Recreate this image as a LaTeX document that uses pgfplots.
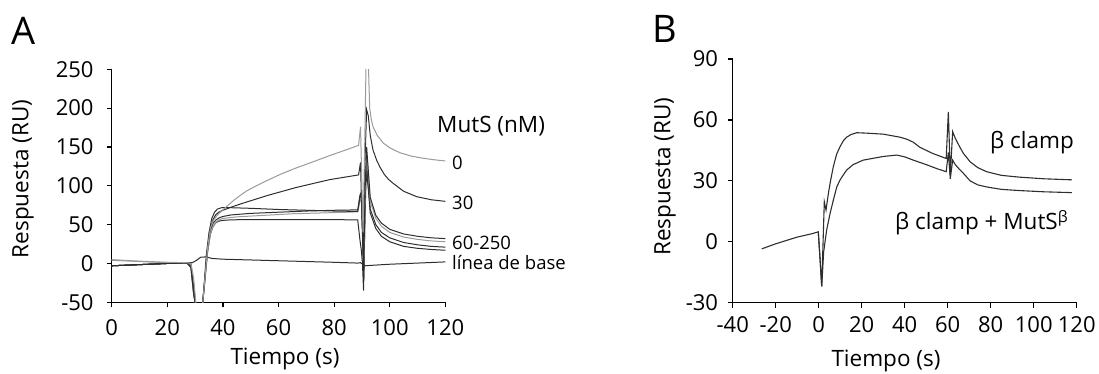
\documentclass[border=0pt]{standalone}
\usepackage{fontspec}
\setmainfont{Open Sans}
\usepackage{pgfplots}
\pgfplotsset{compat=1.18}
\definecolor{lg}{HTML}{9A9A9A}
\definecolor{dk}{HTML}{2E2E2E}
\newcommand{\fs}[1]{\fontsize{#1}{#1}\selectfont}
\pgfplotsset{myax/.style={scale only axis, anchor=south west, axis lines=left,
  axis line style={-, line width=1.2pt, black}, tick align=outside,
  major tick length=5pt, tick style={line width=1.2pt, black}, enlargelimits=false,
  tick label style={font=\fs{22}, inner sep=0pt, black}, clip=true}}
\begin{document}
\begin{tikzpicture}
\path[use as bounding box] (0pt,0pt) rectangle (1099pt,374pt);
% ---------------- Panel A ----------------
\begin{axis}[myax, at={(111.7pt,71.7pt)}, width=333.6pt, height=233pt,
  xmin=0, xmax=120, ymin=-50, ymax=250,
  xtick={0,20,40,60,80,100,120}, xticklabels={0,20,40,60,80,100,120},
  ytick={-50,0,50,100,150,200,250}, yticklabels={-50,0,50,100,150,200,250},
  yticklabel style={xshift=-13pt}, xticklabel style={yshift=-12pt}]
% baseline
\addplot[dk, line width=1pt] table {
0 -3
10 -1.5
20 0
27 0.8
29 1
30.5 4
32 8
34 8.5
36 6.5
40 5.5
60 3.5
80 1.5
88.5 0.5
89.5 1
90.3 -1
91 -3
93 -2.5
100 -1
110 0.5
120 2
};
% P4 low plateau
\addplot[dk, line width=1pt] table {
0 -3
20 0
27 0.8
28.5 -5
29.5 -40
30.5 -60
32.5 -60
33.5 -20
34.5 15
35.5 38
36.5 48
37.5 52.5
38.5 54.5
40 55.5
43 56.2
50 56.5
60 56.5
70 56.5
80 56.5
88.5 56
89.3 30
89.8 17
90.2 0
90.6 -35
91.1 60
91.6 120
92.2 100
93 65
95 45
97 35
100 28
105 22
110 19.5
115 18
120 17
};
% P3
\addplot[dk, line width=1pt] table {
0 -3
20 0
27 0.8
28.5 -3
29.5 -35
30.5 -60
32.5 -60
33.5 -22
34.5 18
35.5 43
36.5 52
37.5 56
38.5 58.5
40 60.5
43 62.5
50 64.5
60 66
70 67.5
80 68.5
88.5 69
89.3 88
89.8 92
90.3 35
90.7 -20
91.2 90
91.7 130
92.3 100
93 70
95 50
97 40
100 33
105 27
110 24
115 22
120 21
};
% P2 gray
\addplot[lg, line width=1pt] table {
0 4
20 1
27 1
28.5 -5
29.5 -40
30.5 -60
32.5 -60
33.5 -25
34.5 15
35.5 38
36.5 48
37.5 53
38.5 56
40 58
45 60
55 62
65 64
75 65
85 66
88.5 66.5
89.3 80
89.8 85
90.3 30
90.7 0
91.3 110
91.8 140
92.4 110
93 80
95 58
97 48
100 40
105 34
110 31
115 29
120 28
};
% P1 early peak
\addplot[dk, line width=1pt] table {
0 -3
20 0
27 0.8
28.5 -5
29.5 -40
30.5 -60
32.5 -60
33.2 -30
34 10
35 40
36 58
37 66
38 70
39.5 71.8
41 72
50 71
60 69.5
70 68.5
80 67.5
88.5 67
89.3 85
89.8 90
90.3 40
90.6 -10
91.2 100
91.7 150
92.3 120
93 85
95 62
97 52
100 44
105 38
110 35
115 33
120 32
};
% 30 nM
\addplot[dk, line width=1pt] table {
0 -3
10 -1.5
20 0
27 0.8
28.5 0
29.5 -30
30.5 -60
32.5 -60
33.5 -20
34.5 20
35.5 45
36.5 57
37.5 63
38.5 66
40 68.5
42.6 72
45 75
48 78.5
52 83
56 87.5
60.5 92
66 97.5
72.5 103
78.5 108
84.5 111.5
88.8 114
89.5 130
90.0 60
90.5 0
91.0 120
91.7 198
92.3 190
93 165
94 146
95.3 133
96.5 124
98 115
99.5 108.5
101.3 103
105 93
109.7 86
115 82
120 80
};
% 0 nM
\addplot[lg, line width=1pt] table {
0 5
10 3
20 1.5
27 1
28.5 0
29.5 -20
30.5 -60
32.5 -60
33.5 -20
34.5 20
35.5 45
36.5 55
37.5 60
38.5 64
40 69
42 75.5
44 81.5
46 87
48.6 93.5
52 100
56 107
60.5 114.5
66 122.5
72.5 131
78.5 139
84.5 146.5
88.8 152
89.5 176
90.0 100
90.4 40
91.0 150
91.5 260
92.3 260
92.8 200
93.4 185
94 176
95.5 165
97.7 155
100 149
103.7 142.5
108 138
112 135.5
116 133.5
120 132
};
\end{axis}
% ---------------- Panel B ----------------
\begin{axis}[myax, at={(732.7pt,71.3pt)}, width=344pt, height=243.7pt,
  xmin=-40, xmax=120, ymin=-30, ymax=90,
  xtick={-40,-20,0,20,40,60,80,100,120}, xticklabels={-40,-20,0,20,40,60,80,100,120},
  ytick={-30,0,30,60,90}, yticklabels={-30,0,30,60,90},
  yticklabel style={xshift=-9.5pt}, xticklabel style={yshift=-9pt}]
\addplot[dk, line width=1.1pt] table {
-26.5 -3.5
-20 -1
-10 2.3
-3 4
-0.2 4.9
0.6 -8
1.4 -22
2.6 19.7
3.4 15.6
4.5 23.8
5.5 30
6.8 37
8.3 43
9.9 46.8
11.5 49.8
13 51.5
15 52.8
17.7 53.7
22 53.5
30 53
37.8 51.5
41 50.5
44 49
47.1 46.5
53 43.5
59.3 41
60.3 64
61.2 33
62.3 54.2
63.5 51
65.7 46.5
67.3 43.5
70.4 39.4
74 36.5
78.1 34.5
85 32.7
93.6 31.8
105 31
117.7 30.5
};
\addplot[dk, line width=1.1pt] table {
-0.2 4.9
0.6 -8
1.4 -22
2.3 -5
3.7 5.8
5.3 14
6.8 20.5
8.4 27
9.9 30.4
11.5 33
13 35.3
16 38
20.7 40.2
30 42
36.3 42.7
40 41.8
44 40.2
50 38
55 36
59.3 34.5
60.3 44
61.2 31
62.3 40.2
63.5 38
65.7 35.4
67.3 33.7
70.4 30
74 28
78.1 27
85 25.8
93.6 25.2
105 24.6
117.7 24.2
};
\end{axis}
% ---------------- Texts ----------------
\node[anchor=base west, inner sep=0pt, font=\fs{38}] at (11pt,329pt) {A};
\node[anchor=base west, inner sep=0pt, font=\fs{38}] at (652pt,331pt) {B};
\node[rotate=90, inner sep=0pt, font=\fs{22.5}] at (23pt,195pt) {Respuesta (RU)};
\node[rotate=90, inner sep=0pt, font=\fs{22.5}] at (665pt,197.3pt) {Respuesta (RU)};
\node[anchor=base, inner sep=0pt, font=\fs{22.5}] at (285pt,9pt) {Tiempo (s)};
\node[anchor=base, inner sep=0pt, font=\fs{22.5}] at (886pt,7.5pt) {Tiempo (s)};
\node[anchor=base west, inner sep=0pt, font=\fs{22.5}] at (437pt,241pt) {MutS (nM)};
\node[anchor=base west, inner sep=0pt, font=\fs{18.5}] at (452pt,204pt) {0};
\node[anchor=base west, inner sep=0pt, font=\fs{18.5}] at (452pt,164pt) {30};
\node[anchor=base west, inner sep=0pt, font=\fs{18.5}] at (452pt,124pt) {60-250};
\node[anchor=base west, inner sep=0pt, font=\fs{18.5}] at (452pt,104pt) {línea de base};
\node[anchor=base west, inner sep=0pt, font=\fs{22.5}] at (990pt,225.7pt) {β clamp};
\node[anchor=base west, inner sep=0pt, font=\fs{22.5}] at (895pt,144pt) {β clamp + MutS\textsuperscript{β}};
\end{tikzpicture}
\end{document}
